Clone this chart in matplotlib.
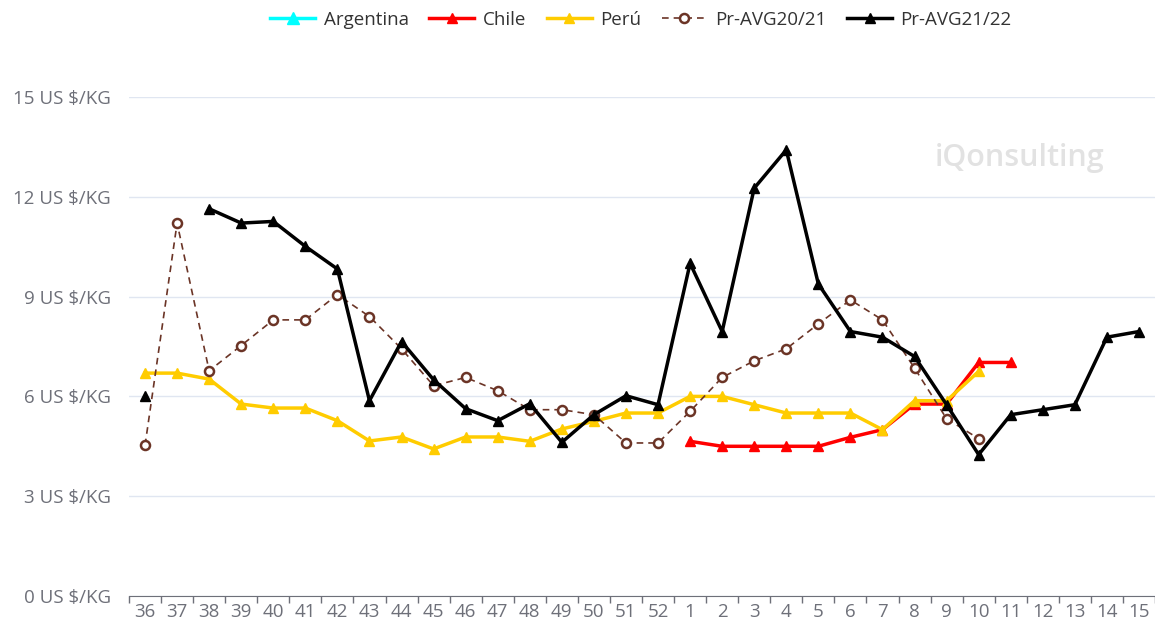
import matplotlib
matplotlib.use('Agg')
import matplotlib.pyplot as plt
import numpy as np

# week labels (season 21/22)
weeks = ['36', '37', '38', '39', '40', '41', '42', '43', '44', '45', '46',
         '47', '48', '49', '50', '51', '52', '1', '2', '3', '4', '5', '6',
         '7', '8', '9', '10', '11', '12', '13', '14', '15']

N = np.nan

argentina = [N] * 32

chile = [N, N, N, N, N, N, N, N, N, N, N, N, N, N, N, N, N,
         4.65, 4.5, 4.5, 4.5, 4.5, 4.77, 5.0, 5.77, 5.77, 7.02, 7.02,
         N, N, N, N]

peru = [6.7, 6.7, 6.52, 5.77, 5.65, 5.65, 5.27, 4.66, 4.78, 4.42, 4.78,
        4.78, 4.65, 5.02, 5.25, 5.5, 5.5, 6.0, 6.0, 5.75, 5.5, 5.5, 5.5,
        5.0, 5.87, 5.87, 6.75, N, N, N, N, N]

avg_20_21 = [4.53, 11.21, 6.77, 7.53, 8.3, 8.3, 9.06, 8.4, 7.43, 6.32, 6.57,
             6.17, 5.6, 5.6, 5.45, 4.6, 4.6, 5.55, 6.57, 7.07, 7.43, 8.18,
             8.9, 8.3, 6.85, 5.33, 4.73, N, N, N, N, N]

avg_21_22 = [6.0, N, 11.64, 11.21, 11.26, 10.51, 9.83, 5.87, 7.65, 6.5, 5.63,
             5.27, 5.78, 4.62, 5.45, 6.02, 5.75, 10.0, 7.95, 12.26, 13.41,
             9.38, 7.95, 7.78, 7.2, 5.75, 4.25, 5.45, 5.6, 5.75, 7.78, 7.95]

yticks = [0, 3, 6, 9, 12, 15]

FONT = 'Open Sans'
AXIS_GREY = '#6E7079'


def draw_chart(filename='out.png'):
    fig = plt.figure(figsize=(11.55, 6.28), dpi=100)
    ax = fig.add_axes([129 / 1155, 32 / 628, 1 - 129 / 1155, 499 / 628])

    x = np.arange(len(weeks))

    ax.plot(x, argentina, color='#00FFFF', lw=2.5, marker='^', ms=9,
            label='Argentina')
    ax.plot(x, chile, color='#FF0000', lw=2.5, marker='^', ms=7.5,
            label='Chile', zorder=3)
    ax.plot(x, peru, color='#FFCC00', lw=2.5, marker='^', ms=7.5,
            label='Perú', zorder=3)
    ax.plot(x, avg_20_21, color='#6B3426', lw=1.2, ls=(0, (4, 3)),
            marker='o', ms=6.5, mfc='white', mec='#6B3426', mew=1.8,
            label='Pr-AVG20/21', zorder=4)
    ax.plot(x, avg_21_22, color='black', lw=2.5, marker='^', ms=7.5,
            label='Pr-AVG21/22', zorder=5)

    ax.set_xlim(-0.5, len(weeks) - 0.5)
    ax.set_ylim(0, 15)

    ax.set_yticks(yticks)
    ax.set_yticklabels(['%d US $/KG' % v for v in yticks])
    ax.grid(axis='y', color='#E0E6F1', lw=1)
    ax.set_axisbelow(True)

    # category axis: labels centred, ticks on the boundaries
    ax.set_xticks(x)
    ax.set_xticklabels(weeks)
    ax.set_xticks(np.arange(len(weeks) + 1) - 0.5, minor=True)
    ax.tick_params(axis='x', which='major', length=0, pad=5,
                   labelsize=13.5, labelcolor=AXIS_GREY)
    ax.tick_params(axis='x', which='minor', length=5, width=1,
                   color=AXIS_GREY)
    ax.tick_params(axis='y', length=0, pad=13, labelsize=13.5,
                   labelcolor=AXIS_GREY)
    for lab in ax.get_xticklabels() + ax.get_yticklabels():
        lab.set_fontfamily(FONT)

    for side in ['top', 'right', 'left']:
        ax.spines[side].set_visible(False)
    ax.spines['bottom'].set_color(AXIS_GREY)
    ax.spines['bottom'].set_zorder(6)

    # watermark
    ax.text(1020 / 1155, 1 - 158 / 628, 'iQonsulting', transform=fig.transFigure,
            ha='center', va='center', fontsize=22, color='#E2E2E2',
            fontfamily=FONT, fontweight='semibold', zorder=1)

    leg = fig.legend(loc='center', bbox_to_anchor=(641 / 1155, 1 - 20 / 628),
                     ncol=5, frameon=False, handlelength=2.4,
                     handletextpad=0.45, columnspacing=1.1,
                     prop={'family': FONT, 'size': 13.5})
    for t in leg.get_texts():
        t.set_color('#333333')

    fig.savefig(filename, dpi=100)


if __name__ == '__main__':
    draw_chart()
